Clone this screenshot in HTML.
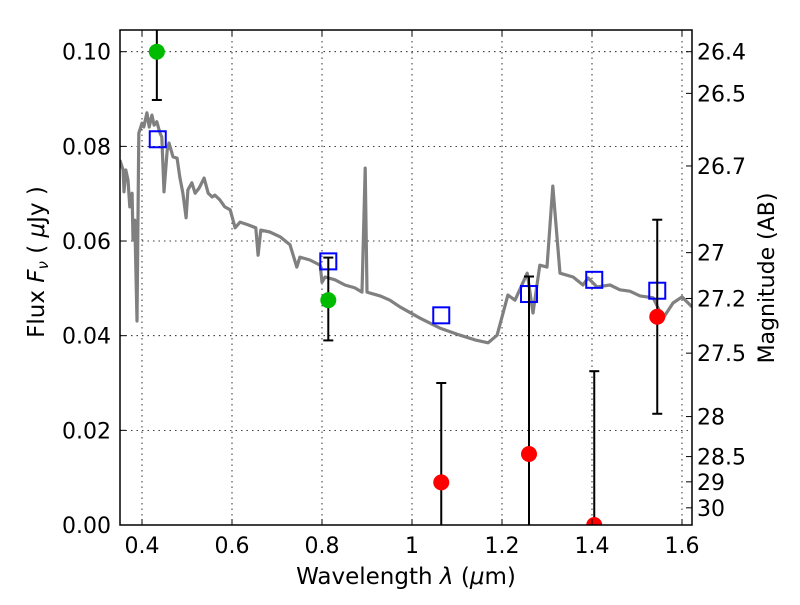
<!DOCTYPE html>
<html><head><meta charset="utf-8"><style>
body{margin:0;background:#fff}
svg text{font-family:"DejaVu Sans","Liberation Sans",sans-serif;fill:#000}
</style></head><body>
<svg id="chart" width="800" height="600" viewBox="0 0 800 600" xmlns="http://www.w3.org/2000/svg">
<rect width="800" height="600" fill="#fff"/>
<g id="grid"></g>
<g id="plot"></g>
<rect x="120" y="30" width="572" height="495" fill="none" stroke="#000" stroke-width="1.5"/>
<g id="axes"></g>
<text x="406" y="584" font-size="23" text-anchor="middle">Wavelength  <tspan font-style="italic">λ</tspan> (<tspan font-style="italic">μ</tspan>m)</text>
<text transform="translate(44,262) rotate(-90)" font-size="23" text-anchor="middle">Flux  <tspan font-style="italic">F<tspan font-size="15" dy="4">ν</tspan></tspan><tspan dy="-4">  ( </tspan><tspan font-style="italic">μ</tspan>Jy )</text>
<text transform="translate(774,278) rotate(-90)" font-size="22" text-anchor="middle">Magnitude (AB)</text>
</svg>
<script>
const specWave=[0.351,0.358,0.360,0.364,0.369,0.373,0.378,0.380,0.384,0.389,0.393,0.400,0.404,0.411,0.416,0.422,0.427,0.433,0.440,0.444,0.449,0.456,0.460,0.469,0.478,0.484,0.491,0.498,0.502,0.511,0.518,0.527,0.538,0.547,0.556,0.562,0.573,0.584,0.596,0.607,0.618,0.636,0.653,0.658,0.664,0.684,0.707,0.729,0.744,0.751,0.773,0.796,0.800,0.807,0.829,0.851,0.873,0.889,0.896,0.900,0.907,0.929,0.951,0.973,1.018,1.062,1.107,1.140,1.169,1.189,1.213,1.229,1.256,1.269,1.284,1.300,1.313,1.329,1.358,1.380,1.391,1.411,1.440,1.462,1.484,1.507,1.536,1.558,1.580,1.600,1.622];
const specFlux=[0.0771,0.0750,0.0704,0.0750,0.0729,0.0672,0.0701,0.0602,0.0644,0.0431,0.0828,0.0849,0.0841,0.0871,0.0841,0.0866,0.0845,0.0852,0.0828,0.0820,0.0704,0.0792,0.0807,0.0778,0.0775,0.0735,0.0701,0.0649,0.0708,0.0723,0.0701,0.0712,0.0733,0.0701,0.0693,0.0697,0.0687,0.0672,0.0666,0.0628,0.0640,0.0634,0.0628,0.0570,0.0623,0.0619,0.0609,0.0592,0.0545,0.0566,0.0560,0.0549,0.0513,0.0524,0.0518,0.0507,0.0501,0.0492,0.0754,0.0492,0.0490,0.0484,0.0475,0.0461,0.0437,0.0416,0.0401,0.0391,0.0385,0.0401,0.0486,0.0475,0.0532,0.0448,0.0549,0.0545,0.0716,0.0532,0.0524,0.0507,0.0522,0.0503,0.0507,0.0497,0.0494,0.0484,0.0480,0.0437,0.0469,0.0482,0.0461];
const greenWave=[0.433,0.814];
const greenFlux=[0.100,0.0475];
const greenLo=[0.0898,0.039];
const greenHi=[0.12,0.0565];
const modelWave=[0.435,0.814,1.065,1.26,1.405,1.545];
const modelFlux=[0.0815,0.0557,0.0443,0.0488,0.0518,0.0495];
const redWave=[1.065,1.26,1.405,1.545];
const redFlux=[0.009,0.015,0.0,0.044];
const redLo=[-0.01,-0.01,-0.01,0.0235];
const redHi=[0.030,0.0525,0.0325,0.0645];
const xTicks=[0.4,0.6,0.8,1.0,1.2,1.4,1.6];
const xTickLabels=["0.4","0.6","0.8","1","1.2","1.4","1.6"];
const yTicks=[0,0.02,0.04,0.06,0.08,0.10];
const yTickLabels=["0.00","0.02","0.04","0.06","0.08","0.10"];
const magTicks=[26.4,26.5,26.7,27,27.2,27.5,28,28.5,29,30];
const magTickLabels=["26.4","26.5","26.7","27","27.2","27.5","28","28.5","29","30"];

const NS="http://www.w3.org/2000/svg";
const X0=120,X1=692,Y0=30,Y1=525;
function xs(v){return 142+(v-0.4)*450;}
function ys(v){return 525-v*4733;}
function mk(tag,attrs,parent){const e=document.createElementNS(NS,tag);for(const k in attrs)e.setAttribute(k,attrs[k]);parent.appendChild(e);return e;}
const grid=document.getElementById('grid'),plot=document.getElementById('plot'),axes=document.getElementById('axes');

xTicks.forEach((t,i)=>{const x=xs(t);
 let g=mk('line',{x1:x,x2:x,y1:Y0,y2:Y1,stroke:'#000','stroke-width':0.8,'stroke-dasharray':'1.5,4'},grid);
 
 let tk=mk('line',{x1:x,x2:x,y1:Y1,y2:Y1-6,stroke:'#000'},axes);
 
 let tk2=mk('line',{x1:x,x2:x,y1:Y0,y2:Y0+6,stroke:'#000'},axes);
 
 let tx=mk('text',{x:x,y:553,'font-size':22,'text-anchor':'middle'},axes);tx.textContent=xTickLabels[i];
 
});
yTicks.forEach((t,i)=>{const y=ys(t);
 if(t>0){let g=mk('line',{x1:X0,x2:X1,y1:y,y2:y,stroke:'#000','stroke-width':0.8,'stroke-dasharray':'1.5,4'},grid);
 }
 let tk=mk('line',{x1:X0,x2:X0+6,y1:y,y2:y,stroke:'#000'},axes);
 
 let tx=mk('text',{x:111,y:y+8,'font-size':22,'text-anchor':'end'},axes);tx.textContent=yTickLabels[i];
 
});
magTicks.forEach((m,i)=>{const y=ys(Math.pow(10,(23.9-m)/2.5));
 let tk=mk('line',{x1:X1,x2:X1-6,y1:y,y2:y,stroke:'#000'},axes);
 
 let tx=mk('text',{x:697,y:y+8,'font-size':22},axes);tx.textContent=magTickLabels[i];
 
});

const cp=mk('clipPath',{id:'clip'},plot);mk('rect',{x:X0,y:Y0,width:X1-X0,height:Y1-Y0},cp);
const pg=mk('g',{'clip-path':'url(#clip)'},plot);
let d=specWave.map((w,i)=>(i?'L':'M')+xs(w).toFixed(1)+','+ys(specFlux[i]).toFixed(1)).join(' ');
let sp=mk('path',{d:d,fill:'none',stroke:'#808080','stroke-width':3.2,'stroke-linejoin':'round'},pg);


modelWave.forEach((w,i)=>{let r=mk('rect',{x:xs(w)-8,y:ys(modelFlux[i])-8,width:16,height:16,fill:'none',stroke:'#0000ff','stroke-width':2},pg);
 });

function errbar(w,lo,hi){const x=xs(w);
 let l=mk('line',{x1:x,x2:x,y1:ys(lo),y2:ys(hi),stroke:'#000','stroke-width':2},pg);
 
 [lo,hi].forEach(v=>{let c=mk('line',{x1:x-5,x2:x+5,y1:ys(v),y2:ys(v),stroke:'#000','stroke-width':2},pg);
 });}
greenWave.forEach((w,i)=>errbar(w,greenLo[i],greenHi[i]));
redWave.forEach((w,i)=>errbar(w,redLo[i],redHi[i]));
greenWave.forEach((w,i)=>{let c=mk('circle',{cx:xs(w),cy:ys(greenFlux[i]),r:8,fill:'#00bb00'},pg);
 });
redWave.forEach((w,i)=>{let c=mk('circle',{cx:xs(w),cy:ys(redFlux[i]),r:8,fill:'#ff0000'},pg);
 });
</script>
</body></html>
